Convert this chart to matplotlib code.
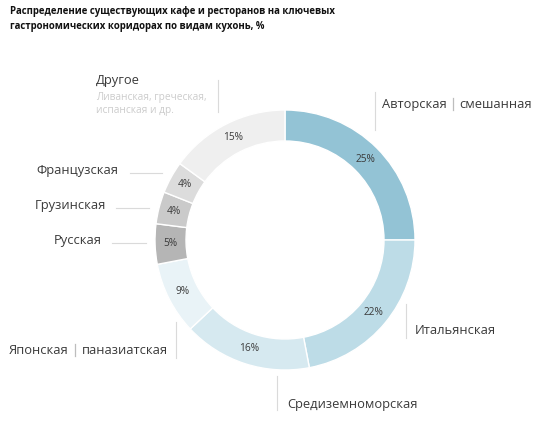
import matplotlib.pyplot as plt

plt.rcParams['font.family'] = ['Open Sans', 'DejaVu Sans']

# cuisine shares, clockwise from 12 o'clock
cuisines = ['Авторская | смешанная', 'Итальянская', 'Средиземноморская',
            'Японская | паназиатская', 'Русская', 'Грузинская',
            'Французская', 'Другое']
shares = [25, 22, 16, 9, 5, 4, 4, 15]
colors = ['#93c3d5', '#bddce7', '#d6e9f0', '#e9f3f7',
          '#b5b5b5', '#cacaca', '#dcdcdc', '#efefef']

title = ('Распределение существующих кафе и ресторанов на ключевых\n'
         'гастрономических коридорах по видам кухонь, %')
other_note = 'Ливанская, греческая,\nиспанская и др.'

W, H = 540, 423
fig = plt.figure(figsize=(W / 100, H / 100), dpi=100)
ax = fig.add_axes([0, 0, 1, 1])

cx, cy = 285, H - 240
R, ring = 130, 31
wedges, texts, autotexts = ax.pie(
    shares, colors=colors, startangle=90, counterclock=False,
    radius=R, center=(cx, cy), autopct='%d%%',
    pctdistance=(R - ring / 2) / R,
    wedgeprops=dict(width=ring, edgecolor='white', linewidth=1),
    textprops=dict(fontsize=7.3, color='#3a3a3a'))

ax.set_xlim(0, W)
ax.set_ylim(0, H)
ax.set_aspect('equal')
ax.axis('off')

def Y(y):
    return H - y

lc = '#dadada'
tc = '#3a3a3a'
fs = 9.3
renderer = fig.canvas.get_renderer()

def label(x, y, s, ha='left'):
    """draw a label; a ' | ' in it becomes a light grey divider"""
    parts = s.split(' | ')
    if len(parts) == 1:
        ax.text(x, Y(y), s, fontsize=fs, color=tc, va='center', ha=ha)
        return
    gap = 13
    pieces = [ax.text(0, Y(y), p, fontsize=fs, color=tc, va='center', ha='left')
              for p in parts]
    widths = [t.get_window_extent(renderer).width for t in pieces]
    total = sum(widths) + gap
    x0 = x if ha == 'left' else x - total
    pieces[0].set_x(x0)
    pieces[1].set_x(x0 + widths[0] + gap)
    xm = x0 + widths[0] + gap / 2
    ax.plot([xm, xm], [Y(y - 6), Y(y + 6)], color='#bdbdbd', lw=0.9)

# label positions (pixel coords, top-left origin) and leader lines
label(382, 104, cuisines[0])
ax.plot([375, 375], [Y(92), Y(130)], color=lc, lw=0.8)

label(415, 331, cuisines[1])
ax.plot([406, 406], [Y(304), Y(338)], color=lc, lw=0.8)

label(287, 404, cuisines[2])
ax.plot([277, 277], [Y(376), Y(410)], color=lc, lw=0.8)

label(168, 350, cuisines[3], ha='right')
ax.plot([176, 176], [Y(322), Y(358)], color=lc, lw=0.8)

label(102, 240, cuisines[4], ha='right')
ax.plot([112, 146], [Y(243), Y(243)], color=lc, lw=0.8)

label(106, 205, cuisines[5], ha='right')
ax.plot([116, 149], [Y(208), Y(208)], color=lc, lw=0.8)

label(118, 170, cuisines[6], ha='right')
ax.plot([130, 162], [Y(173), Y(173)], color=lc, lw=0.8)

label(96, 80, cuisines[7])
ax.text(96, Y(104), other_note, fontsize=7.3, color='#cccccc', va='center',
        ha='left', linespacing=1.2)
ax.plot([218, 218], [Y(80), Y(112)], color=lc, lw=0.8)

ax.text(10, Y(6), title, fontsize=6.9, fontweight='bold', color='#111111',
        va='top', ha='left', linespacing=1.5)

fig.savefig('out.png', dpi=100)
